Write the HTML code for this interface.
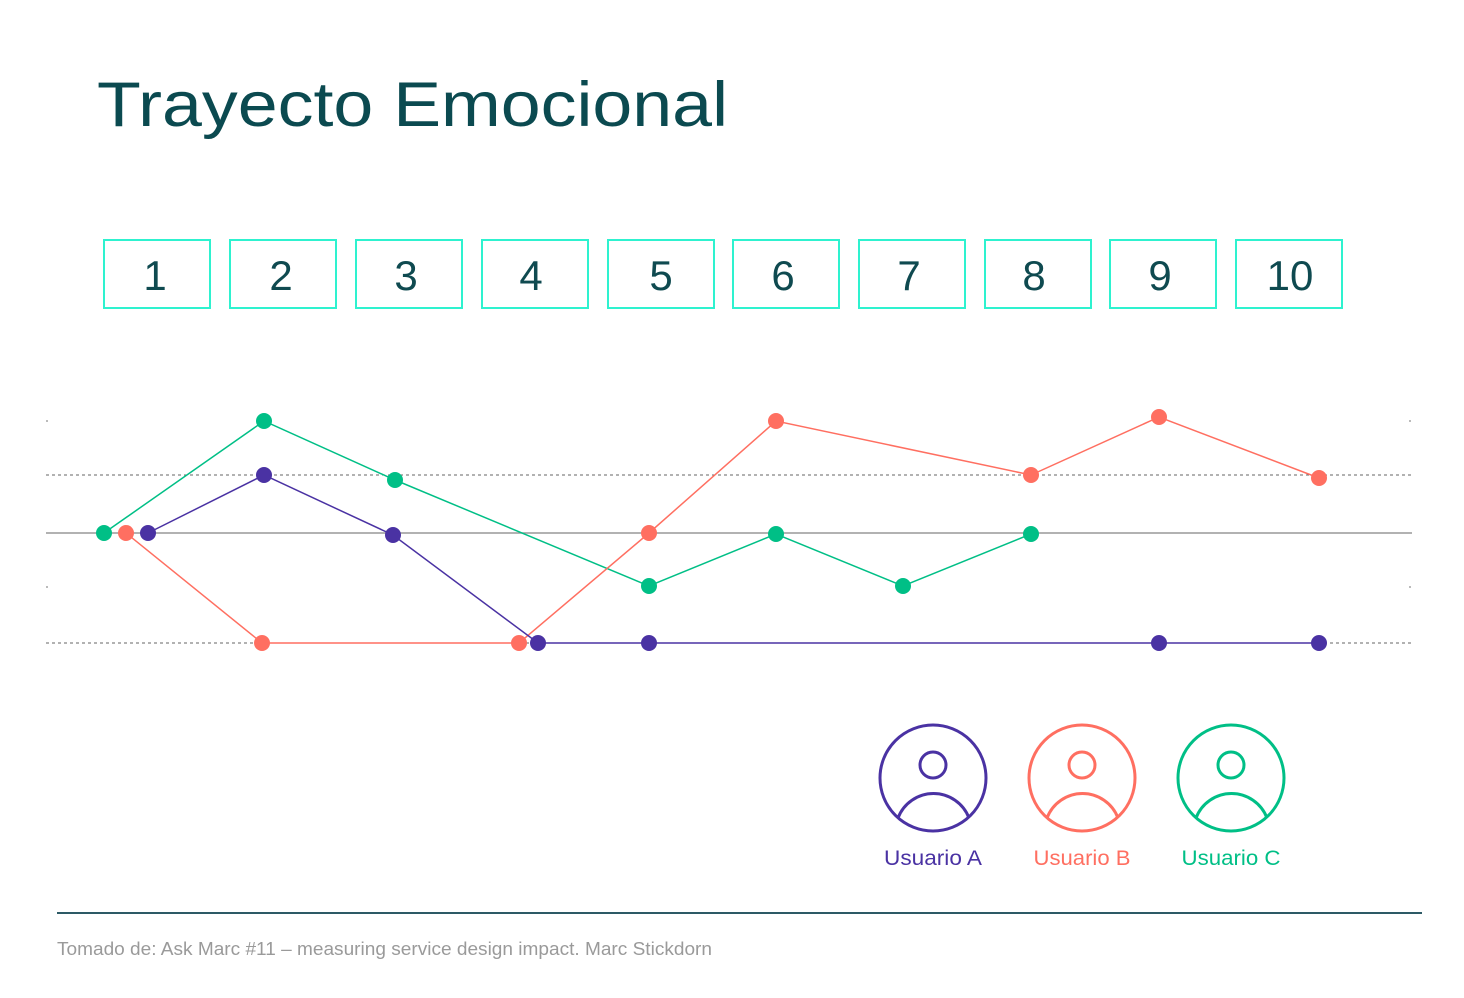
<!DOCTYPE html>
<html><head><meta charset="utf-8"><style>
html,body{margin:0;padding:0;background:#fff;}
svg{display:block;}
</style></head><body>
<svg width="1464" height="998" viewBox="0 0 1464 998" xmlns="http://www.w3.org/2000/svg" font-family="Liberation Sans, sans-serif">
<rect width="1464" height="998" fill="#fff"/>
<text x="97" y="126" font-size="63" fill="#0b4a50" textLength="631" lengthAdjust="spacingAndGlyphs">Trayecto Emocional</text>
<g fill="none" stroke="#2ef2cf" stroke-width="2">
<rect x="104" y="240" width="106" height="68"/><rect x="230" y="240" width="106" height="68"/>
<rect x="356" y="240" width="106" height="68"/><rect x="482" y="240" width="106" height="68"/>
<rect x="608" y="240" width="106" height="68"/><rect x="733" y="240" width="106" height="68"/>
<rect x="859" y="240" width="106" height="68"/><rect x="985" y="240" width="106" height="68"/>
<rect x="1110" y="240" width="106" height="68"/><rect x="1236" y="240" width="106" height="68"/>
</g>
<g font-size="42" fill="#0f4a50" text-anchor="middle">
<text x="155" y="290">1</text><text x="281" y="290">2</text><text x="406" y="290">3</text><text x="531" y="290">4</text><text x="661" y="290">5</text><text x="783" y="290">6</text><text x="909" y="290">7</text><text x="1034" y="290">8</text><text x="1160" y="290">9</text><text x="1290" y="290">10</text>
</g>
<g stroke="#666" stroke-width="1" stroke-dasharray="3,3">
<line x1="46" y1="475" x2="1412" y2="475"/><line x1="46" y1="643" x2="1412" y2="643"/>
</g>
<line x1="46" y1="533" x2="1412" y2="533" stroke="#999" stroke-width="1.5"/>
<g fill="#bbb"><rect x="46" y="420" width="2" height="2"/><rect x="1409" y="420" width="2" height="2"/><rect x="46" y="586" width="2" height="2"/><rect x="1409" y="586" width="2" height="2"/></g>
<polyline fill="none" stroke="#00bf86" stroke-width="1.5" points="104,533 264,421 395,480 649,586 776,534 903,586 1031,534"/>
<polyline fill="none" stroke="#ff6f61" stroke-width="1.5" points="126,533 262,643 519,643 649,533 776,421 1031,475 1159,417 1319,478"/>
<polyline fill="none" stroke="#4a32a3" stroke-width="1.5" points="148,533 264,475 393,535 538,643 649,643 1159,643 1319,643"/>
<g fill="#00bf86"><circle cx="104" cy="533" r="8"/><circle cx="264" cy="421" r="8"/><circle cx="395" cy="480" r="8"/><circle cx="649" cy="586" r="8"/><circle cx="776" cy="534" r="8"/><circle cx="903" cy="586" r="8"/><circle cx="1031" cy="534" r="8"/></g>
<g fill="#ff6f61"><circle cx="126" cy="533" r="8"/><circle cx="262" cy="643" r="8"/><circle cx="519" cy="643" r="8"/><circle cx="649" cy="533" r="8"/><circle cx="776" cy="421" r="8"/><circle cx="1031" cy="475" r="8"/><circle cx="1159" cy="417" r="8"/><circle cx="1319" cy="478" r="8"/></g>
<g fill="#4a32a3"><circle cx="148" cy="533" r="8"/><circle cx="264" cy="475" r="8"/><circle cx="393" cy="535" r="8"/><circle cx="538" cy="643" r="8"/><circle cx="649" cy="643" r="8"/><circle cx="1159" cy="643" r="8"/><circle cx="1319" cy="643" r="8"/></g>
<g fill="none" stroke-width="3">
<g stroke="#4a32a3"><circle cx="933" cy="778" r="53"/><circle cx="933" cy="765" r="13"/><path d="M898,818 A38,38 0 0 1 969,818"/></g>
<g stroke="#ff6f61"><circle cx="1082" cy="778" r="53"/><circle cx="1082" cy="765" r="13"/><path d="M1047,818 A38,38 0 0 1 1118,818"/></g>
<g stroke="#00bf86"><circle cx="1231" cy="778" r="53"/><circle cx="1231" cy="765" r="13"/><path d="M1196,818 A38,38 0 0 1 1267,818"/></g>
</g>
<g font-size="21" text-anchor="middle">
<text x="933" y="865" fill="#4a32a3" textLength="98" lengthAdjust="spacingAndGlyphs">Usuario A</text>
<text x="1082" y="865" fill="#ff6f61" textLength="97" lengthAdjust="spacingAndGlyphs">Usuario B</text>
<text x="1231" y="865" fill="#00bf86" textLength="99" lengthAdjust="spacingAndGlyphs">Usuario C</text>
</g>
<line x1="57" y1="913" x2="1422" y2="913" stroke="#2d5a66" stroke-width="2"/>
<text x="57" y="955" font-size="18" fill="#9a9a9a" textLength="655" lengthAdjust="spacingAndGlyphs">Tomado de: Ask Marc #11 – measuring service design impact. Marc Stickdorn</text>
</svg>
</body></html>
